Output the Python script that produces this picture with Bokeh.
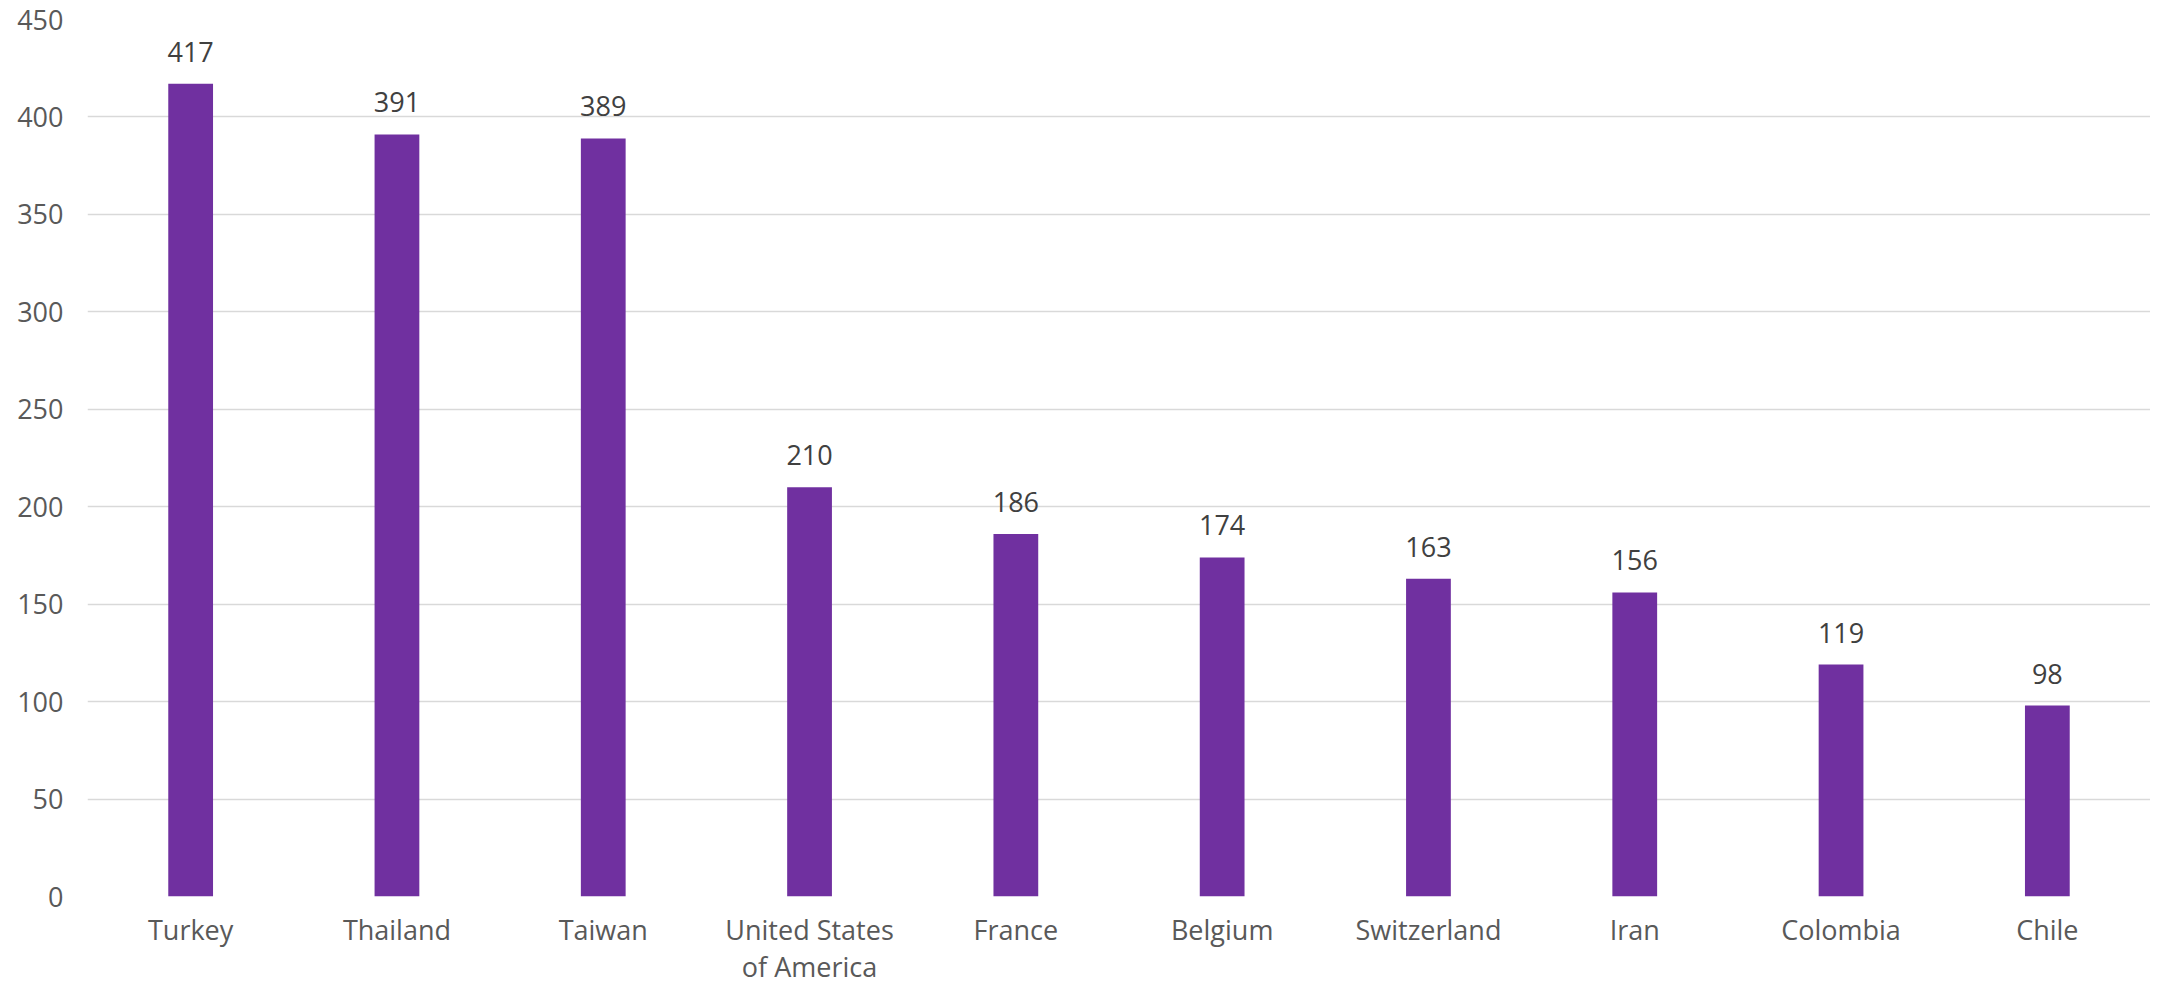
from bokeh.plotting import figure
from bokeh.models import ColumnDataSource, LabelSet, FactorRange, Range1d, FixedTicker
from bokeh.core.properties import value
from bokeh.embed import file_html
from bokeh.resources import INLINE

countries = ["Turkey", "Thailand", "Taiwan", "United States\nof America", "France",
             "Belgium", "Switzerland", "Iran", "Colombia", "Chile"]
values = [417, 391, 389, 210, 186, 174, 163, 156, 119, 98]
y_ticks = [0, 50, 100, 150, 200, 250, 300, 350, 400, 450]

FONT = "Open Sans"

src = ColumnDataSource(dict(country=countries, value=values,
                            label=[str(v) for v in values]))

p = figure(x_range=FactorRange(*countries, range_padding=0),
           y_range=Range1d(0, 450),
           width=2150, height=987, output_backend="svg", toolbar_location=None,
           min_border_left=87, min_border_right=0, min_border_top=19,
           min_border_bottom=80)
p.outline_line_color = None

p.vbar(x="country", top="value", width=0.217, source=src,
       fill_color="#7030A0", line_color=None)

labels = LabelSet(x="country", y="value", text="label", source=src,
                  text_align="center", text_baseline="bottom", y_offset=22,
                  text_font=value(FONT), text_font_size="27px", text_color="#404040")
p.add_layout(labels)

p.xgrid.grid_line_color = None
p.ygrid.grid_line_color = "#d9d9d9"
p.ygrid.grid_line_width = 1.3
p.yaxis.ticker = FixedTicker(ticks=y_ticks)

for ax in (p.xaxis, p.yaxis):
    ax.axis_line_color = None
    ax.major_tick_line_color = None
    ax.minor_tick_line_color = None
    ax.major_label_text_font = FONT
    ax.major_label_text_font_size = "27px"
    ax.major_label_text_color = "#595959"

p.yaxis.major_label_standoff = 18
p.xaxis.major_label_standoff = 8
p.xaxis.major_label_text_line_height = 1.0

open("out.html", "w").write(file_html(p, INLINE))
